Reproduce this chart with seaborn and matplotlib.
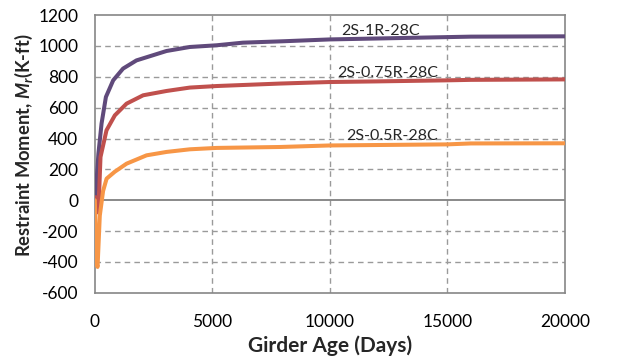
import matplotlib
matplotlib.use("Agg")
import matplotlib.pyplot as plt
import seaborn as sns
import pandas as pd

# Girder age (days) and restraint moment (k-ft) per series
days_1r = [0, 40, 150, 285, 470, 780, 1200, 1770, 3050, 4040, 5180, 6300, 8000, 10000, 12000, 15000, 16000, 20000]
m_1r = [0, 50, 300, 497, 669, 777, 853, 906, 967, 993, 1004, 1021, 1030, 1042, 1048, 1057, 1060, 1062]

days_075r = [0, 40, 150, 240, 495, 850, 1350, 2055, 3050, 4040, 5180, 7870, 10000, 12000, 15000, 16000, 20000]
m_075r = [0, 20, -80, 280, 453, 550, 626, 680, 708, 730, 740, 756, 766, 770, 777, 780, 783]

days_05r = [0, 60, 115, 210, 350, 500, 850, 1350, 2200, 3050, 4040, 5180, 7870, 10000, 15000, 16000, 20000]
m_05r = [0, -400, -432, -100, 60, 140, 185, 237, 291, 313, 330, 339, 345, 355, 362, 368, 369]

series_names = ["2S-1R-28C", "2S-0.75R-28C", "2S-0.5R-28C"]
colors = ["#604A7B", "#C0504D", "#F79646"]

x_ticks = [0, 5000, 10000, 15000, 20000]
y_ticks = [-600, -400, -200, 0, 200, 400, 600, 800, 1000, 1200]

frames = []
for name, d, m in zip(series_names, [days_1r, days_075r, days_05r], [m_1r, m_075r, m_05r]):
    frames.append(pd.DataFrame({"Days": d, "Moment": m, "Series": name}))
df = pd.concat(frames, ignore_index=True)

sns.set_style("white")
plt.rcParams["font.family"] = ["Lato", "DejaVu Sans"]
plt.rcParams["axes.unicode_minus"] = False
plt.rcParams["mathtext.fontset"] = "custom"
plt.rcParams["mathtext.it"] = "Lato:italic:bold"
plt.rcParams["mathtext.rm"] = "Lato:bold"

fig = plt.figure(figsize=(6.2, 3.58), dpi=100)
ax = fig.add_axes([0.153, 0.182, 0.758, 0.776])

grid_c = "#9a9a9a"
for xv in x_ticks[1:-1]:
    ax.axvline(xv, color=grid_c, lw=1.0, ls=(0, (4, 3)), zorder=1)
for yv in y_ticks[1:-1]:
    if yv == 0:
        ax.axhline(yv, color="#808080", lw=1.3, zorder=1)
    else:
        ax.axhline(yv, color=grid_c, lw=1.0, ls=(0, (4, 3)), zorder=1)

sns.lineplot(data=df, x="Days", y="Moment", hue="Series", palette=colors,
             hue_order=series_names, linewidth=2.9, ax=ax, legend=False,
             sort=False, estimator=None, zorder=3)

ax.set_xlim(0, 20000)
ax.set_ylim(-600, 1200)
ax.set_xticks(x_ticks)
ax.set_yticks(y_ticks)
ax.tick_params(axis="both", length=0, labelsize=12.5, colors="black")
ax.tick_params(axis="x", pad=15)
ax.tick_params(axis="y", pad=12)
for s in ax.spines.values():
    s.set_color("#868686")
    s.set_linewidth(1.2)

ax.set_xlabel("Girder Age (Days)", fontsize=15, fontweight="bold")
ax.set_ylabel(r"Restraint Moment, $\mathit{M_r}$(K-ft)", fontsize=13.2, fontweight="bold")
ax.xaxis.set_label_coords(0.5, -0.155)
ax.yaxis.set_label_coords(-0.128, 0.53)

ax.text(10500, 1095, series_names[0], fontsize=11.5, ha="left", va="center")
ax.text(10300, 825, series_names[1], fontsize=11.5, ha="left", va="center")
ax.text(10700, 415, series_names[2], fontsize=11.5, ha="left", va="center")

fig.savefig("out.png", dpi=100)
